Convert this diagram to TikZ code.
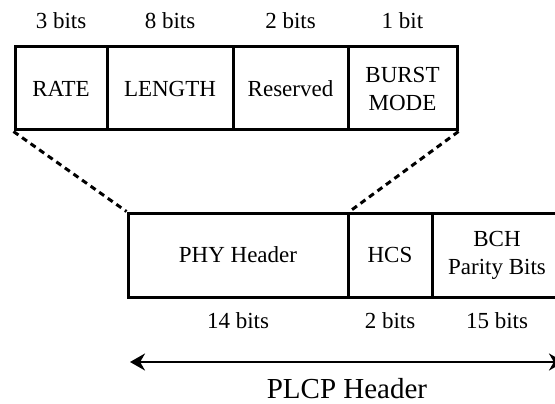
\documentclass[tikz,border=0pt]{standalone}
\usepackage{fontspec}
\setmainfont{Liberation Serif}
\usetikzlibrary{arrows.meta}
\begin{document}
\begin{tikzpicture}[x=1pt,y=-1pt,
  field/.style={draw, line width=3pt, inner sep=0pt, align=center,
    font=\fontsize{23}{28}\selectfont},
  toprow/.style={field, minimum height=83pt},
  botrow/.style={field, minimum height=84pt},
  lbl/.style={inner sep=0pt, font=\fontsize{23}{28}\selectfont},
  dashline/.style={line width=3pt, dash pattern=on 6pt off 4.5pt},
  span/.style={{Stealth[length=15pt,width=17pt]}-{Stealth[length=15pt,width=17pt]}, line width=2.5pt}]
\useasboundingbox (0,0) rectangle (555,404);
% top row
\node[toprow, minimum width=92pt]  (rate)  at (61,88.5)  {RATE};
\node[toprow, minimum width=126pt] (len)   at (170,88.5) {LENGTH};
\node[toprow, minimum width=115pt] (res)   at (290.5,88.5) {Reserved};
\node[toprow, minimum width=109pt] (burst) at (402.5,88.5) {BURST\\MODE};
% bottom row
\node[botrow, minimum width=220pt] (phy) at (238,255) {PHY Header};
\node[botrow, minimum width=84pt]  (hcs) at (390,255) {HCS};
\node[botrow, minimum width=130pt] (bch) at (497,255) {BCH\\Parity Bits};
% bit labels
\node[lbl] (l3)  at (61,21)  {3 bits};
\node[lbl] (l8)  at (170,21) {8 bits};
\node[lbl] (l2)  at (290.5,21) {2 bits};
\node[lbl] (l1)  at (402.5,21) {1 bit};
\node[lbl] (l14) at (238,321) {14 bits};
\node[lbl] (l2b) at (390,321) {2 bits};
\node[lbl] (l15) at (497,321) {15 bits};
% dashed connectors
\draw[dashline] (rate.south west) -- (phy.north west);
\draw[dashline] (burst.south east) -- (phy.north east);
% span arrow
\coordinate (al) at (130,362);
\coordinate (ar) at (564,362);
\draw[span] (al) -- (ar);
\node[inner sep=0pt, font=\fontsize{29}{34}\selectfont] (plcp) at (347,389) {PLCP Header};
\end{tikzpicture}
\end{document}
